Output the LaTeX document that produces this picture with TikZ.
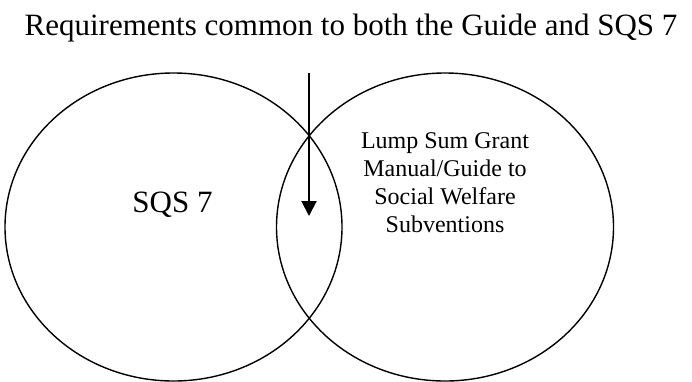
\documentclass[tikz,border=0pt]{standalone}
\usepackage{fontspec}
\setmainfont{Liberation Serif}
\usetikzlibrary{shapes.geometric,arrows.meta}
\begin{document}
\begin{tikzpicture}[x=1pt,y=-1pt,
  setcircle/.style={draw=black,line width=1.4pt,ellipse,minimum width=337pt,minimum height=308pt,inner sep=0pt},
  bigtext/.style={font=\fontsize{31}{36}\selectfont,inner sep=0pt,anchor=base},
  smalltext/.style={font=\fontsize{24}{28}\selectfont,inner sep=0pt,align=center,anchor=north},
  pointer/.style={line width=2pt,-{Triangle[width=15pt,length=15pt]}}]
\useasboundingbox (0,0) rectangle (692,381);
\node[setcircle] (left) at (173.5,227) {};
\node[setcircle] (right) at (445,227) {};
\node[bigtext] (title) at (351,35) {Requirements common to both the Guide and SQS 7};
\node[bigtext] (sqs) at (172.5,212) {SQS 7};
\node[smalltext] (guide) at (445,132) {Lump Sum Grant\\Manual/Guide to\\Social Welfare\\Subventions};
\coordinate (astart) at (309,73);
\coordinate (aend) at (309,216);
\draw[pointer] (astart) -- (aend);
\end{tikzpicture}
\end{document}
